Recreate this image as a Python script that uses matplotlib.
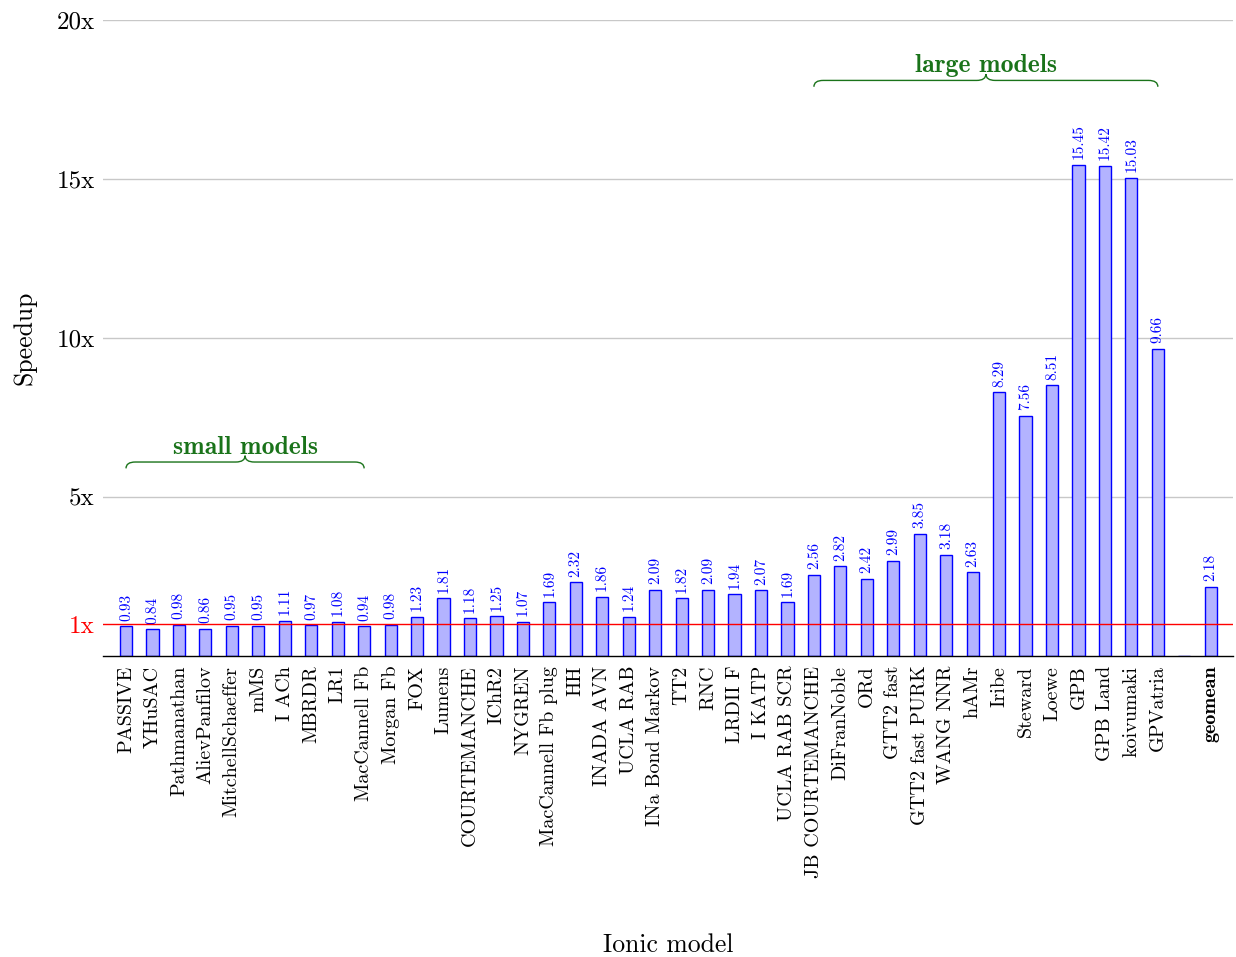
import matplotlib
matplotlib.use("Agg")
import matplotlib.pyplot as plt
from matplotlib.path import Path
from matplotlib.patches import PathPatch
import numpy as np

plt.rcParams["font.family"] = ["cmr10", "DejaVu Serif"]
plt.rcParams["axes.formatter.use_mathtext"] = True

models = [
    "PASSIVE", "YHuSAC", "Pathmanathan", "AlievPanfilov", "MitchellSchaeffer",
    "mMS", "I ACh", "MBRDR", "LR1", "MacCannell Fb", "Morgan Fb", "FOX",
    "Lumens", "COURTEMANCHE", "IChR2", "NYGREN", "MacCannell Fb plug", "HH",
    "INADA AVN", "UCLA RAB", "INa Bond Markov", "TT2", "RNC", "LRDII F",
    "I KATP", "UCLA RAB SCR", "JB COURTEMANCHE", "DiFranNoble", "ORd",
    "GTT2 fast", "GTT2 fast PURK", "WANG NNR", "hAMr", "Iribe", "Steward",
    "Loewe", "GPB", "GPB Land", "koivumaki", "GPVatria",
]
speedup = [
    0.93, 0.84, 0.98, 0.86, 0.95, 0.95, 1.11, 0.97, 1.08, 0.94, 0.98, 1.23,
    1.81, 1.18, 1.25, 1.07, 1.69, 2.32, 1.86, 1.24, 2.09, 1.82, 2.09, 1.94,
    2.07, 1.69, 2.56, 2.82, 2.42, 2.99, 3.85, 3.18, 2.63, 8.29, 7.56, 8.51,
    15.45, 15.42, 15.03, 9.66,
]
geomean_label = "geomean"
geomean_value = 2.18

# empty spacer slot between the models and the geometric mean
categories = models + [""] + [geomean_label]
values = speedup + [0.0] + [geomean_value]

ytick_values = [1, 5, 10, 15, 20]
ytick_labels = ["1x", "5x", "10x", "15x", "20x"]

groups = [("small models", "PASSIVE", "MacCannell Fb", 6.1),
          ("large models", "JB COURTEMANCHE", "GPVatria", 18.1)]

bar_fill = (0.7, 0.7, 1.0)
group_green = (0.1, 0.45, 0.1)

fig = plt.figure(figsize=(12.36, 9.57), dpi=100)
ax = fig.add_axes([103 / 1236, 1 - 656 / 957, (1233 - 103) / 1236, (656 - 20) / 957])

x = np.arange(len(categories))
ax.bar(x, values, width=0.46, color=bar_fill, edgecolor="blue", linewidth=1.0, zorder=2)

for xi, (cat, v) in enumerate(zip(categories, values)):
    if cat == "":
        continue
    ax.annotate(f"{v:.2f}", (xi, v), xytext=(0, 4), textcoords="offset points",
                rotation=90, ha="center", va="bottom", color="blue", fontsize=11)

ax.set_xlim(-0.87, len(categories) - 1 + 0.84)
ax.set_ylim(0, 20)

ax.set_xticks(x)
ax.set_xticklabels(categories, rotation=90, fontsize=14.5)
for lbl in ax.get_xticklabels():
    if lbl.get_text() == geomean_label:
        lbl.set_family(["cmb10", "DejaVu Serif"])
ax.tick_params(axis="x", length=0, pad=7)

ax.set_yticks(ytick_values)
ax.set_yticklabels(ytick_labels, fontsize=18)
ax.tick_params(axis="y", length=0, pad=6)
ax.get_yticklabels()[0].set_color("red")

for yv in ytick_values[1:]:
    ax.axhline(yv, color="#c8c8c8", linewidth=1.0, zorder=0)
ax.axhline(1, color="red", linewidth=1.0, zorder=3)

for s in ["left", "right", "top"]:
    ax.spines[s].set_visible(False)
ax.spines["bottom"].set_linewidth(1.0)
ax.spines["bottom"].set_zorder(4)

ax.set_ylabel("Speedup", fontsize=18.5, labelpad=14)
ax.set_xlabel("Ionic model", fontsize=18.5, va="center")
ax.xaxis.set_label_coords(0.5, (656 - 945) / 636)


def draw_brace(ax, x0, x1, y, h=0.2, r=0.35, color="green"):
    xm = (x0 + x1) / 2
    verts = [
        (x0, y - h), (x0, y), (x0 + r, y),
        (xm - r, y),
        (xm, y), (xm, y + h),
        (xm, y), (xm + r, y),
        (x1 - r, y),
        (x1, y), (x1, y - h),
    ]
    codes = [Path.MOVETO, Path.CURVE3, Path.CURVE3,
             Path.LINETO,
             Path.CURVE3, Path.CURVE3,
             Path.CURVE3, Path.CURVE3,
             Path.LINETO,
             Path.CURVE3, Path.CURVE3]
    ax.add_patch(PathPatch(Path(verts, codes), facecolor="none", edgecolor=color,
                           linewidth=1.0, zorder=5))


for name, first, last, ylev in groups:
    i0 = categories.index(first)
    i1 = categories.index(last)
    draw_brace(ax, i0, i1, ylev, color=group_green)
    ax.text((i0 + i1) / 2, ylev + 0.1, name, ha="center", va="bottom",
            color=group_green, fontsize=18.5, family=["cmb10", "DejaVu Serif"])

fig.savefig("out.png", dpi=100)
